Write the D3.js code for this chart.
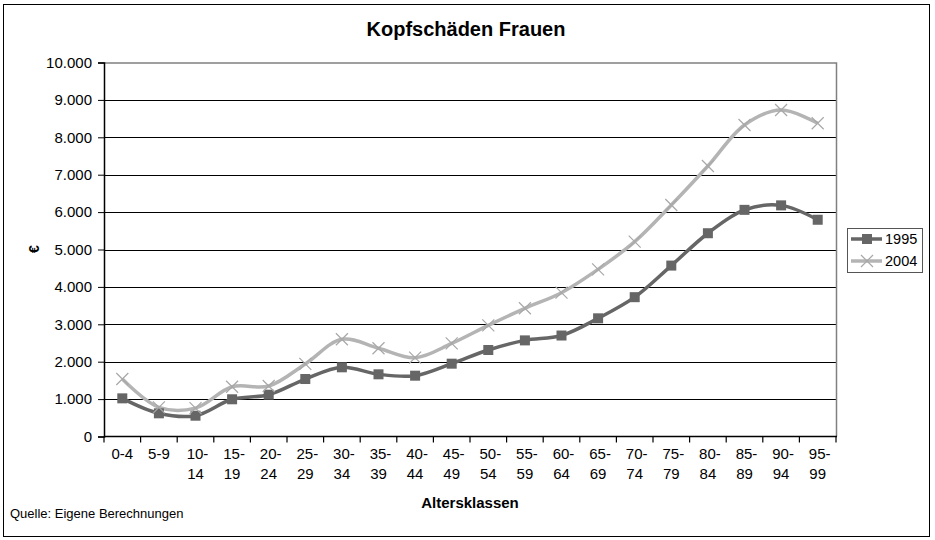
<!DOCTYPE html>
<html>
<head>
<meta charset="utf-8">
<script src="https://cdn.jsdelivr.net/npm/d3@7"></script>
<style>
  body { margin: 0; background: #fff; }
  svg { font-family: "Liberation Sans", Arial, sans-serif; }
</style>
</head>
<body>
<div id="chart"></div>
<script>
// Daten
var kategorien = ["0-4", "5-9", "10-14", "15-19", "20-24", "25-29", "30-34", "35-39", "40-44", "45-49",
  "50-54", "55-59", "60-64", "65-69", "70-74", "75-79", "80-84", "85-89", "90-94", "95-99"];
var werte1995 = [1020, 620, 556, 995, 1118, 1537, 1850, 1663, 1626, 1947,
  2313, 2570, 2700, 3160, 3725, 4570, 5435, 6060, 6180, 5795];
var werte2004 = [1537, 780, 760, 1330, 1350, 1940, 2600, 2360, 2107, 2490,
  2973, 3428, 3845, 4470, 5210, 6190, 7233, 8330, 8730, 8375];
var yTicks = [0, 1000, 2000, 3000, 4000, 5000, 6000, 7000, 8000, 9000, 10000];

var width = 935, height = 540;
var plot = { left: 104, right: 836, top: 62.5, bottom: 436.5 };

var svg = d3.select("#chart").append("svg")
  .attr("width", width)
  .attr("height", height);

// Rahmen
svg.append("rect")
  .attr("x", 3.5).attr("y", 4.5)
  .attr("width", 926).attr("height", 532)
  .attr("fill", "#fff").attr("stroke", "#000").attr("stroke-width", 1);

var x = d3.scaleBand().domain(kategorien).range([plot.left, plot.right]);
var y = d3.scaleLinear().domain([0, 10000]).range([plot.bottom, plot.top]);
var fmt = function (d) { return d3.format(",")(d).replace(/,/g, "."); };

// Gitterlinien
svg.append("g").selectAll("line")
  .data(yTicks.slice(1, -1))
  .enter().append("line")
  .attr("x1", plot.left).attr("x2", plot.right)
  .attr("y1", function (d) { return Math.round(y(d)) + 0.5; })
  .attr("y2", function (d) { return Math.round(y(d)) + 0.5; })
  .attr("stroke", "#000").attr("stroke-width", 1);

// Rand der Zeichenfläche (oben, rechts)
svg.append("path")
  .attr("d", "M" + plot.left + "," + (plot.top + 0.5) + "H" + (plot.right + 0.5) + "V" + plot.bottom)
  .attr("fill", "none").attr("stroke", "#808080").attr("stroke-width", 1.5);

// Y-Achse
var yAxis = svg.append("g")
  .attr("transform", "translate(" + plot.left + ",0)")
  .call(d3.axisLeft(y).tickValues(yTicks).tickFormat(fmt).tickSize(6).tickPadding(6));
yAxis.select(".domain").attr("stroke", "#000").attr("stroke-width", 1.5);
yAxis.selectAll(".tick line").attr("stroke", "#000");
yAxis.selectAll("text").attr("font-size", 15).attr("fill", "#000")
  .attr("font-family", "Liberation Sans, Arial, sans-serif");

// X-Achse
var xAxis = svg.append("g")
  .attr("transform", "translate(0," + plot.bottom + ")");
xAxis.append("line")
  .attr("x1", plot.left).attr("x2", plot.right + 1)
  .attr("stroke", "#000").attr("stroke-width", 1.5);
xAxis.selectAll(".xtick")
  .data(kategorien.concat(["end"]))
  .enter().append("line")
  .attr("x1", function (d, i) { return plot.left + i * x.bandwidth(); })
  .attr("x2", function (d, i) { return plot.left + i * x.bandwidth(); })
  .attr("y1", 0).attr("y2", 6)
  .attr("stroke", "#000").attr("stroke-width", 1.2);
var xLabels = xAxis.selectAll(".xlabel")
  .data(kategorien)
  .enter().append("text")
  .attr("text-anchor", "middle")
  .attr("font-size", 15)
  .attr("x", function (d) { return x(d) + x.bandwidth() / 2; })
  .attr("y", 22);
xLabels.each(function (d) {
  var t = d3.select(this);
  var parts = d.split("-");
  if (parts[0].length > 1) {
    t.append("tspan").attr("x", x(d) + x.bandwidth() / 2).attr("dx", 2).text(parts[0] + "-");
    t.append("tspan").attr("x", x(d) + x.bandwidth() / 2).attr("dy", 20).text(parts[1]);
  } else {
    t.text(d);
  }
});

// Linien
var line = d3.line()
  .x(function (d, i) { return x(kategorien[i]) + x.bandwidth() / 2; })
  .y(function (d) { return y(d); })
  .curve(d3.curveCatmullRom.alpha(0.5));

svg.append("path").datum(werte2004)
  .attr("d", line).attr("fill", "none")
  .attr("stroke", "#b4b4b4").attr("stroke-width", 3.5);

svg.append("path").datum(werte1995)
  .attr("d", line).attr("fill", "none")
  .attr("stroke", "#666").attr("stroke-width", 3.5);

// Marker 1995 (Quadrate)
svg.append("g").selectAll("rect")
  .data(werte1995).enter().append("rect")
  .attr("x", function (d, i) { return x(kategorien[i]) + x.bandwidth() / 2 - 5; })
  .attr("y", function (d) { return y(d) - 5; })
  .attr("width", 10).attr("height", 10)
  .attr("fill", "#666");

// Marker 2004 (Kreuze)
svg.append("g").selectAll("path")
  .data(werte2004).enter().append("path")
  .attr("transform", function (d, i) {
    return "translate(" + (x(kategorien[i]) + x.bandwidth() / 2) + "," + y(d) + ")";
  })
  .attr("d", "M-6,-6L6,6M-6,6L6,-6")
  .attr("stroke", "#a8a8a8").attr("stroke-width", 1.2).attr("fill", "none");

// Titel und Beschriftungen
svg.append("text")
  .attr("x", 466).attr("y", 36)
  .attr("text-anchor", "middle")
  .attr("font-size", 20).attr("font-weight", "bold")
  .text("Kopfschäden Frauen");

svg.append("text")
  .attr("transform", "translate(39,249) rotate(-90)")
  .attr("text-anchor", "middle")
  .attr("font-size", 14).attr("font-weight", "bold")
  .text("€");

svg.append("text")
  .attr("x", 470).attr("y", 508)
  .attr("text-anchor", "middle")
  .attr("font-size", 15).attr("font-weight", "bold")
  .text("Altersklassen");

svg.append("text")
  .attr("x", 10).attr("y", 518)
  .attr("font-size", 13)
  .text("Quelle: Eigene Berechnungen");

// Legende
var legend = svg.append("g").attr("transform", "translate(847,228)");
legend.append("rect")
  .attr("x", 0.5).attr("y", 0.5).attr("width", 75).attr("height", 44)
  .attr("fill", "#fff").attr("stroke", "#555").attr("stroke-width", 1);

var eintraege = [
  { name: "1995", farbe: "#666", typ: "quadrat" },
  { name: "2004", farbe: "#b4b4b4", typ: "kreuz" }
];
eintraege.forEach(function (e, i) {
  var g = legend.append("g").attr("transform", "translate(0," + (11 + i * 22) + ")");
  g.append("line").attr("x1", 4).attr("x2", 35).attr("stroke", e.farbe).attr("stroke-width", 3.5);
  if (e.typ === "quadrat") {
    g.append("rect").attr("x", 15).attr("y", -5).attr("width", 10).attr("height", 10).attr("fill", e.farbe);
  } else {
    g.append("path").attr("d", "M14,-6L26,6M14,6L26,-6").attr("stroke", "#a8a8a8").attr("stroke-width", 1.2);
  }
  g.append("text").attr("x", 38).attr("y", 5).attr("font-size", 14.5).text(e.name);
});
</script>
</body>
</html>
